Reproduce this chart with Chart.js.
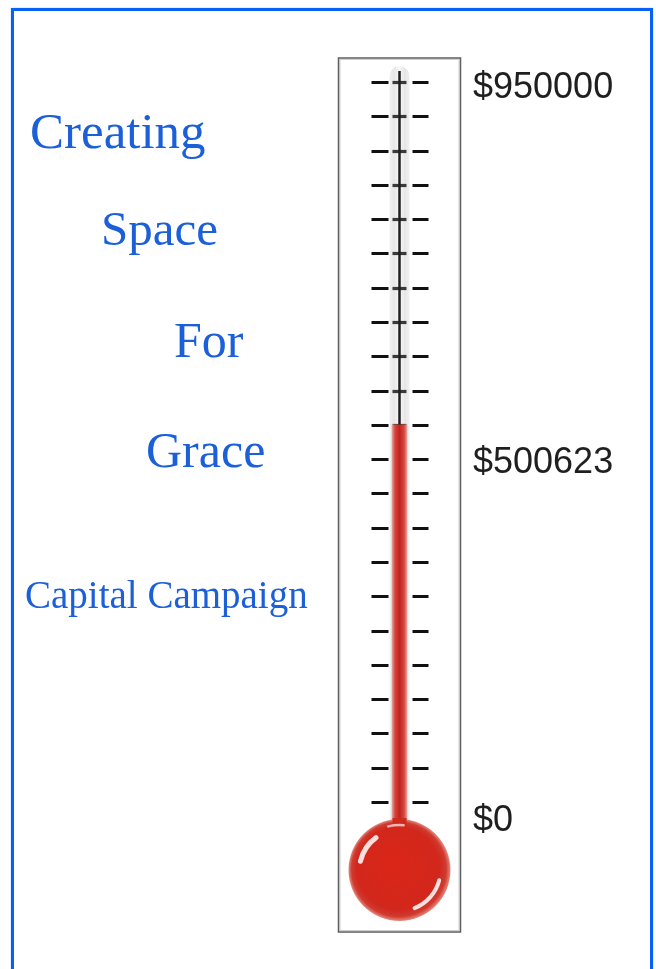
<!DOCTYPE html>
<html>
<head>
<meta charset="utf-8">
<title>Creating Space For Grace - Capital Campaign</title>
<script src="https://cdn.jsdelivr.net/npm/chart.js"></script>
<style>
  html, body { margin: 0; padding: 0; background: #fff; overflow: hidden; }
  #page { position: relative; width: 656px; height: 969px; }
  #box {
    position: absolute; left: 11px; top: 8px; width: 636px; height: 1000px;
    border: 3px solid #0a5ff5; box-shadow: 0 0 1px #6ea0ff;
  }
  .word {
    position: absolute; white-space: nowrap; line-height: 1;
    font-family: "Liberation Serif", "DejaVu Serif", serif; color: #1b5fd9;
  }
  #thermo { position: absolute; left: 0; top: 0; }
</style>
</head>
<body>
<div id="page">
  <div id="box"></div>
  <canvas id="thermo" width="656" height="969"></canvas>
  <div class="word" style="left:30px; top:106px; font-size:51px;">Creating</div>
  <div class="word" style="left:101px; top:204px; font-size:49px;">Space</div>
  <div class="word" style="left:174px; top:315px; font-size:50px;">For</div>
  <div class="word" style="left:146px; top:425px; font-size:50px;">Grace</div>
  <div class="word" style="left:25px; top:575px; font-size:39px;">Capital Campaign</div>
</div>
<script>
// campaign numbers
const categories = ['Raised'];
const raised = [500623];
const goal = 950000;
const tickValues = [0, 500623, 950000];

// small vertical nudges of the value labels (px)
const labelNudge = [1, 38, 18];
const dashRows = 22;

function centerX(chart) {
    const a = chart.chartArea;
    return (a.left + a.right) / 2;
}

const thermoPlugin = {
    id: 'thermo',
    beforeDatasetsDraw(chart) {
        const ctx = chart.ctx;
        const a = chart.chartArea;
        const cx = centerX(chart);

        ctx.save();
        // outer frame
        ctx.strokeStyle = '#d0d0d0';
        ctx.lineWidth = 1;
        ctx.strokeRect(cx - 59.5, a.top - 10.5, 119, 871);
        ctx.strokeStyle = '#5e5e5e';
        ctx.lineWidth = 1.5;
        ctx.strokeRect(cx - 61, a.top - 12, 122, 874);

        // glass tube
        const g = ctx.createLinearGradient(cx - 11, 0, cx + 11, 0);
        g.addColorStop(0, '#f3f3f3');
        g.addColorStop(0.25, '#e6e6e6');
        g.addColorStop(0.5, '#f7f7f7');
        g.addColorStop(0.75, '#e6e6e6');
        g.addColorStop(1, '#f3f3f3');
        ctx.fillStyle = g;
        ctx.beginPath();
        ctx.moveTo(cx - 10, a.bottom + 5);
        ctx.lineTo(cx - 10, a.top + 6);
        ctx.arc(cx, a.top + 6, 10, Math.PI, 0);
        ctx.lineTo(cx + 10, a.bottom + 5);
        ctx.closePath();
        ctx.fill();

        // dashes
        const first = a.top + 12;
        const last = a.bottom - 18;
        const step = (last - first) / (dashRows - 1);
        ctx.lineWidth = 3.2;
        for (let i = 0; i < dashRows; i++) {
            const yy = Math.round(first + i * step) + 0.5;
            ctx.strokeStyle = '#111';
            ctx.beginPath();
            ctx.moveTo(cx - 28, yy); ctx.lineTo(cx - 11, yy);
            ctx.moveTo(cx + 13, yy); ctx.lineTo(cx + 29, yy);
            ctx.stroke();
            ctx.strokeStyle = '#3a3a3a';
            ctx.beginPath();
            ctx.moveTo(cx - 7, yy); ctx.lineTo(cx + 7, yy);
            ctx.stroke();
        }

        // center line of the empty tube
        ctx.strokeStyle = '#1e1e1e';
        ctx.lineWidth = 2.5;
        ctx.beginPath();
        ctx.moveTo(cx, a.top + 1);
        ctx.lineTo(cx, a.bottom);
        ctx.stroke();
        ctx.restore();
    },
    afterDatasetsDraw(chart) {
        const ctx = chart.ctx;
        const a = chart.chartArea;
        const cx = centerX(chart);
        const by = a.bottom + 50;
        const r = 51;

        ctx.save();
        // bulb
        const rg = ctx.createRadialGradient(cx - 8, by - 8, 4, cx, by, r);
        rg.addColorStop(0, '#da2619');
        rg.addColorStop(0.8, '#d2271c');
        rg.addColorStop(0.92, '#cf3b30');
        rg.addColorStop(1, '#e78a80');
        ctx.fillStyle = rg;
        ctx.beginPath();
        ctx.arc(cx, by, r, 0, Math.PI * 2);
        ctx.fill();

        // neck
        ctx.fillStyle = '#cf2a20';
        ctx.fillRect(cx - 7, a.bottom - 2, 14, 8);

        // highlights
        ctx.strokeStyle = 'rgba(255,255,255,0.85)';
        ctx.lineCap = 'round';
        ctx.lineWidth = 5;
        ctx.beginPath();
        ctx.arc(cx, by, 40, Math.PI * 1.07, Math.PI * 1.3);
        ctx.stroke();
        ctx.lineWidth = 4;
        ctx.beginPath();
        ctx.arc(cx, by, 41, Math.PI * 0.08, Math.PI * 0.38);
        ctx.stroke();
        ctx.lineWidth = 2.5;
        ctx.strokeStyle = 'rgba(255,255,255,0.65)';
        ctx.beginPath();
        ctx.arc(cx, by, 45, Math.PI * 1.42, Math.PI * 1.53);
        ctx.stroke();
        ctx.restore();
    },
    afterDraw(chart) {
        const ctx = chart.ctx;
        const a = chart.chartArea;
        const y = chart.scales.y;
        ctx.save();
        ctx.font = '36px "Liberation Sans", Arial, sans-serif';
        ctx.fillStyle = '#1f1f1f';
        ctx.textAlign = 'left';
        ctx.textBaseline = 'middle';
        tickValues.forEach((v, i) => {
            ctx.fillText('$' + v, a.right + 59, y.getPixelForValue(v) + labelNudge[i]);
        });
        ctx.restore();
    }
};

function mercury(context) {
    const chart = context.chart;
    const a = chart.chartArea;
    if (!a) return '#c8281f';
    const cx = centerX(chart);
    const g = chart.ctx.createLinearGradient(cx - 7.5, 0, cx + 7.5, 0);
    g.addColorStop(0, '#e7a19b');
    g.addColorStop(0.2, '#d2453b');
    g.addColorStop(0.5, '#c3231b');
    g.addColorStop(0.8, '#d2453b');
    g.addColorStop(1, '#e7a19b');
    return g;
}

new Chart(document.getElementById('thermo'), {
    type: 'bar',
    data: {
        labels: categories,
        datasets: [{
            label: 'Raised',
            data: raised,
            backgroundColor: mercury,
            borderWidth: 0,
            barThickness: 15
        }]
    },
    options: {
        responsive: false,
        animation: false,
        layout: {
            padding: { left: 385, right: 242, top: 70, bottom: 149 }
        },
        scales: {
            x: { display: false },
            y: { display: false, min: 0, max: goal }
        },
        plugins: {
            legend: { display: false },
            tooltip: { enabled: false }
        }
    },
    plugins: [thermoPlugin]
});
</script>
</body>
</html>
